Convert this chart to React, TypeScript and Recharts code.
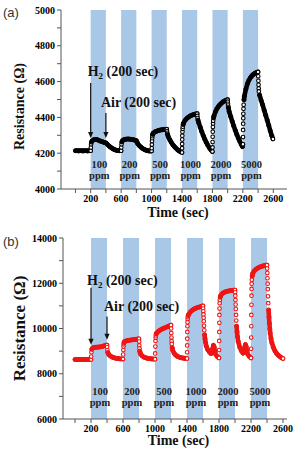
import React from "react";
import { ScatterChart, Scatter, XAxis, YAxis, ReferenceArea, ReferenceLine } from "recharts";

type Pt = [number, number];

// pulse timing and H2 concentrations
const pulseStarts = [200, 600, 1000, 1400, 1800, 2200];
const pulseLength = 200;
const pulseConc = ["100", "200", "500", "1000", "2000", "5000"];

const timeTicks = [0, 200, 400, 600, 800, 1000, 1200, 1400, 1600, 1800, 2000, 2200, 2400, 2600];
const timeLabels = [200, 600, 1000, 1400, 1800, 2200, 2600];

const resTicksA = [4000, 4100, 4200, 4300, 4400, 4500, 4600, 4700, 4800, 4900, 5000];
const resLabelsA = [4000, 4200, 4400, 4600, 4800, 5000];
const resTicksB = [6000, 7000, 8000, 9000, 10000, 11000, 12000, 13000, 14000];
const resLabelsB = [6000, 8000, 10000, 12000, 14000];

// ---- (a) resistance, ohm ----
const aBaseline: Pt[] = [[0,4214],[20,4214],[40,4213],[60,4214],[80,4214],[100,4213],[120,4214],[140,4214],[160,4213],[180,4214],[200,4214]];
const aH2_100: Pt[] = [[202,4232],[205,4250],[210,4262],[220,4269],[240,4275],[260,4277],[280,4276],[300,4273],[320,4269],[340,4266],[360,4263],[380,4260],[400,4257]];
const aAir_100: Pt[] = [[420,4249],[440,4241],[460,4234],[480,4228],[500,4223],[520,4219],[540,4216],[560,4215],[580,4214],[600,4214]];
const aH2_200: Pt[] = [[602,4232],[605,4250],[610,4263],[620,4271],[640,4276],[660,4278],[680,4279],[700,4279],[720,4278],[740,4277],[760,4275],[780,4273],[800,4270]];
const aAir_200: Pt[] = [[805,4265],[810,4260],[820,4252],[840,4242],[860,4234],[880,4227],[900,4222],[920,4218],[940,4215],[960,4213],[980,4212],[1000,4212]];
const aH2_500: Pt[] = [[1002,4228],[1004,4248],[1006,4268],[1008,4284],[1010,4295],[1015,4305],[1020,4311],[1040,4318],[1060,4322],[1080,4325],[1100,4328],[1120,4330],[1140,4331],[1160,4332],[1180,4333],[1200,4334]];
const aAir_500: Pt[] = [[1203,4324],[1206,4314],[1210,4305],[1220,4292],[1240,4275],[1260,4260],[1280,4247],[1300,4237],[1320,4228],[1340,4220],[1360,4213],[1380,4208],[1400,4204]];
const aH2_1000: Pt[] = [[1401,4228],[1402,4252],[1403,4276],[1404,4298],[1406,4320],[1408,4336],[1410,4348],[1415,4360],[1420,4368],[1440,4383],[1460,4393],[1480,4400],[1500,4406],[1520,4411],[1540,4414],[1560,4417],[1580,4419],[1600,4421]];
const aAir_1000: Pt[] = [[1602,4408],[1605,4396],[1610,4385],[1620,4370],[1640,4345],[1660,4320],[1680,4298],[1700,4278],[1720,4260],[1740,4244],[1760,4230],[1780,4218],[1800,4209]];
const aH2_2000: Pt[] = [[1801,4232],[1802,4262],[1803,4292],[1804,4320],[1806,4346],[1808,4366],[1810,4381],[1815,4397],[1820,4408],[1840,4432],[1860,4449],[1880,4462],[1900,4472],[1920,4480],[1940,4487],[1960,4492],[1980,4496],[2000,4499]];
const aAir_2000: Pt[] = [[2002,4488],[2004,4476],[2006,4466],[2010,4455],[2020,4432],[2040,4405],[2060,4378],[2080,4352],[2100,4328],[2120,4305],[2140,4285],[2160,4266],[2180,4248],[2195,4237]];
const aH2_5000: Pt[] = [[2201,4250],[2202,4290],[2203,4330],[2204,4365],[2205,4395],[2206,4420],[2208,4448],[2210,4470],[2215,4498],[2220,4518],[2240,4558],[2260,4588],[2280,4608],[2300,4622],[2320,4633],[2340,4641],[2360,4647],[2380,4651],[2400,4654]];
const aAir_5000: Pt[] = [[2402,4630],[2404,4605],[2406,4582],[2408,4562],[2410,4545],[2420,4525],[2440,4495],[2460,4470],[2480,4440],[2500,4412],[2520,4385],[2540,4355],[2560,4325],[2580,4298],[2595,4280]];

// ---- (b) resistance, ohm ----
const bBaseline: Pt[] = [[0,8630],[20,8632],[40,8628],[60,8630],[80,8631],[100,8629],[120,8630],[140,8632],[160,8628],[180,8630],[200,8630]];
const bH2_100: Pt[] = [[202,8760],[205,8950],[210,9080],[220,9140],[240,9160],[260,9170],[280,9175],[300,9180],[320,9190],[340,9205],[360,9230],[380,9255],[400,9265]];
const bAir_100: Pt[] = [[402,9180],[405,9050],[410,8940],[420,8860],[440,8790],[460,8745],[480,8715],[500,8695],[520,8680],[540,8670],[560,8660],[580,8655],[600,8650]];
const bH2_200: Pt[] = [[602,8850],[604,9050],[606,9200],[608,9300],[610,9360],[615,9400],[620,9420],[640,9450],[660,9470],[680,9482],[700,9492],[720,9500],[740,9510],[760,9520],[780,9530],[800,9545]];
const bAir_200: Pt[] = [[802,9420],[804,9250],[806,9120],[810,9000],[815,8920],[820,8870],[840,8790],[860,8740],[880,8710],[900,8690],[920,8675],[940,8665],[960,8657],[980,8650],[1000,8645]];
const bH2_500: Pt[] = [[1002,8900],[1004,9200],[1006,9450],[1008,9600],[1010,9690],[1015,9760],[1020,9800],[1040,9870],[1060,9920],[1080,9960],[1100,9995],[1120,10025],[1140,10055],[1160,10085],[1180,10115],[1200,10145]];
const bAir_500: Pt[] = [[1202,10000],[1204,9800],[1206,9600],[1208,9440],[1210,9320],[1215,9150],[1220,9050],[1240,8900],[1260,8820],[1280,8770],[1300,8740],[1320,8715],[1340,8700],[1360,8690],[1380,8680],[1400,8675]];
const bH2_1000: Pt[] = [[1401,8950],[1402,9250],[1403,9550],[1404,9850],[1405,10100],[1406,10280],[1408,10420],[1410,10500],[1415,10570],[1420,10620],[1440,10720],[1460,10790],[1480,10840],[1500,10880],[1520,10910],[1540,10935],[1560,10955],[1580,10980],[1600,11000]];
const bAir_1000: Pt[] = [[1602,10880],[1604,10760],[1606,10620],[1608,10470],[1610,10320],[1613,10120],[1616,9920],[1620,9720],[1625,9540],[1630,9400],[1640,9230],[1660,9060],[1680,8960],[1700,8890],[1710,8920],[1720,9100],[1730,9260],[1740,9180],[1750,8980],[1760,8850],[1780,8750],[1800,8700]];
const bH2_2000: Pt[] = [[1801,9050],[1802,9450],[1803,9850],[1804,10250],[1805,10600],[1806,10880],[1808,11120],[1810,11260],[1815,11380],[1820,11450],[1840,11540],[1860,11590],[1880,11620],[1900,11640],[1920,11660],[1940,11672],[1960,11682],[1980,11692],[2000,11700]];
const bAir_2000: Pt[] = [[2002,11600],[2004,11450],[2006,11260],[2008,11060],[2010,10860],[2013,10600],[2016,10350],[2020,10100],[2025,9850],[2030,9650],[2040,9420],[2060,9170],[2080,9010],[2100,8910],[2110,8950],[2120,9150],[2130,9290],[2140,9200],[2150,9000],[2160,8860],[2180,8760],[2200,8700]];
const bH2_5000: Pt[] = [[2201,9100],[2202,9600],[2203,10100],[2204,10600],[2205,11050],[2206,11450],[2207,11750],[2208,11980],[2210,12160],[2215,12320],[2220,12420],[2240,12540],[2260,12610],[2280,12660],[2300,12700],[2320,12730],[2340,12755],[2360,12775],[2380,12790],[2400,12800]];
const bAir_5000: Pt[] = [[2402,12650],[2404,12450],[2406,12220],[2408,11980],[2410,11740],[2413,11420],[2416,11120],[2420,10820],[2425,10500],[2430,10220],[2435,9980],[2440,9790],[2450,9550],[2460,9380],[2480,9160],[2500,9010],[2520,8900],[2540,8820],[2560,8760],[2580,8710],[2600,8670]];

type Row = { t: number; r: number };

const toRows = (parts: Pt[][]): Row[] => parts.flat().map(([t, r]) => ({ t, r }));

// points logged at short intervals (fast transients) and the final sample stay visible
// as open circles; slowly sampled stretches merge into a solid trace like the dense record
const isFast = (rows: Row[], i: number) => {
  if (i === rows.length - 1) return true;
  const prev = i > 0 ? rows[i].t - rows[i - 1].t : Infinity;
  const next = rows[i + 1].t - rows[i].t;
  return Math.min(prev, next) <= 3;
};

const slowRuns = (rows: Row[]) => {
  const runs: Row[][] = [];
  let cur: Row[] = [];
  rows.forEach((row, i) => {
    if (isFast(rows, i)) {
      if (cur.length) runs.push([...cur, row]);
      cur = [];
    } else cur.push(row);
  });
  if (cur.length > 1) runs.push(cur);
  return runs.filter((r) => r.length > 1);
};

const dataA = toRows([aBaseline, aH2_100, aAir_100, aH2_200, aAir_200, aH2_500, aAir_500, aH2_1000, aAir_1000, aH2_2000, aAir_2000, aH2_5000, aAir_5000]);
const dataB = toRows([bBaseline, bH2_100, bAir_100, bH2_200, bAir_200, bH2_500, bAir_500, bH2_1000, bAir_1000, bH2_2000, bAir_2000, bH2_5000, bAir_5000]);

const SERIF = "'Liberation Serif', 'Times New Roman', serif";
const AXIS = "#555";
const BAND = "#a9c7e7";

const tickStyle = { fill: "#000", fontFamily: SERIF, fontWeight: 700, fontSize: 10 };

interface ArrowNote {
  t: number;
  from: number;
  to: number;
  kind: "h2" | "air";
  dx: number;
  dy: number;
}

const arrowShape = (note: ArrowNote) => (p: any) => {
  const { x1, y1, x2, y2 } = p;
  const head = 6;
  return (
    <g>
      <line x1={x1} y1={y1} x2={x2} y2={y2 - head + 1} stroke="#111" strokeWidth={1.2} />
      <polygon points={`${x2 - 2.6},${y2 - head} ${x2 + 2.6},${y2 - head} ${x2},${y2}`} fill="#111" />
      <text x={x1 + note.dx} y={y1 + note.dy} fontFamily={SERIF} fontWeight={700} fontSize={14} fill="#111">
        {note.kind === "h2" ? (
          <>
            <tspan>H</tspan>
            <tspan fontSize={9} dy={3}>2</tspan>
            <tspan dy={-3}> (200 sec)</tspan>
          </>
        ) : (
          "Air (200 sec)"
        )}
      </text>
    </g>
  );
};

interface PanelProps {
  data: Row[];
  color: string;
  height: number;
  xDomain: [number, number];
  yDomain: [number, number];
  yTicks: number[];
  yLabels: number[];
  marginTop: number;
  xAxisHeight: number;
  yAxisWidth: number;
  notes: ArrowNote[];
  ppmLine1: number;
  ppmLine2: number;
}

function SensorPanel(p: PanelProps) {
  const fast = new Set(p.data.filter((_, i) => isFast(p.data, i)).map((d) => d.t));
  const runs = slowRuns(p.data);
  const dot = (props: any) => {
    const open = fast.has(props.payload?.t);
    return open ? (
      <circle cx={props.cx} cy={props.cy} r={1.8} fill="#fff" stroke={p.color} strokeWidth={1.1} />
    ) : (
      <circle cx={props.cx} cy={props.cy} r={2} fill={p.color} stroke={p.color} strokeWidth={1} />
    );
  };
  return (
    <ScatterChart width={295} height={p.height} margin={{ top: p.marginTop, right: 8, left: 0, bottom: 0 }}>
      {pulseStarts.map((s, i) => (
        <ReferenceArea
          key={s}
          x1={s}
          x2={s + pulseLength}
          fill={BAND}
          fillOpacity={1}
          stroke="none"
          label={(lp: any) => {
            const vb = lp.viewBox;
            const cx = vb.x + vb.width / 2 + 1;
            const bottom = vb.y + vb.height;
            return (
              <text textAnchor="middle" fontFamily={SERIF} fontWeight={700} fontSize={10.5} fill="#222">
                <tspan x={cx} y={bottom - p.ppmLine1}>{pulseConc[i]}</tspan>
                <tspan x={cx} y={bottom - p.ppmLine2}>ppm</tspan>
              </text>
            );
          }}
        />
      ))}
      <XAxis
        type="number"
        dataKey="t"
        domain={p.xDomain}
        ticks={timeTicks}
        interval={0}
        allowDataOverflow
        tickFormatter={(v: number) => (timeLabels.includes(v) ? String(v) : "")}
        height={p.xAxisHeight}
        stroke={AXIS}
        tickSize={4}
        tickMargin={2}
        tick={tickStyle}
      />
      <XAxis xAxisId="top" orientation="top" type="number" domain={p.xDomain} ticks={timeTicks} interval={0} allowDataOverflow height={0} mirror tick={false} tickSize={4} stroke={AXIS} />
      <YAxis
        type="number"
        dataKey="r"
        domain={p.yDomain}
        ticks={p.yTicks}
        interval={0}
        allowDataOverflow
        tickFormatter={(v: number) => (p.yLabels.includes(v) ? String(v) : "")}
        width={p.yAxisWidth}
        stroke={AXIS}
        tickSize={4}
        tickMargin={2}
        tick={tickStyle}
      />
      <YAxis yAxisId="right" orientation="right" type="number" domain={p.yDomain} ticks={p.yTicks} interval={0} allowDataOverflow width={0} mirror tick={false} tickSize={4} stroke={AXIS} />
      {p.notes.map((n) => (
        <ReferenceLine
          key={n.kind}
          segment={[{ x: n.t, y: n.from }, { x: n.t, y: n.to }]}
          shape={arrowShape(n)}
        />
      ))}
      {runs.map((run, k) => (
        <Scatter
          key={"run" + k}
          data={run}
          line={{ stroke: p.color, strokeWidth: 4.6, strokeLinejoin: "round", strokeLinecap: "round" }}
          lineType="joint"
          shape={() => <g />}
          isAnimationActive={false}
        />
      ))}
      <Scatter data={p.data} shape={dot} isAnimationActive={false} />
    </ScatterChart>
  );
}

const notesA: ArrowNote[] = [
  { t: 200, from: 4592, to: 4285, kind: "h2", dx: -3, dy: -7 },
  { t: 400, from: 4425, to: 4285, kind: "air", dx: -5, dy: -6 },
];
const notesB: ArrowNote[] = [
  { t: 200, from: 11800, to: 9280, kind: "h2", dx: -4, dy: -3 },
  { t: 400, from: 10530, to: 9500, kind: "air", dx: -3, dy: -6 },
];

export default function App() {
  return (
    <div style={{ position: "absolute", left: 0, top: 0, width: 295, height: 449, overflow: "hidden", background: "#fff" }}>
      <div style={{ position: "absolute", left: 0, top: 0 }}>
        <SensorPanel
          data={dataA}
          color="#000"
          height={225}
          xDomain={[-190, 2780]}
          yDomain={[4000, 5000]}
          yTicks={resTicksA}
          yLabels={resLabelsA}
          marginTop={10}
          xAxisHeight={36}
          yAxisWidth={61}
          notes={notesA}
          ppmLine1={21}
          ppmLine2={10}
        />
      </div>
      <div style={{ position: "absolute", left: 0, top: 225 }}>
        <SensorPanel
          data={dataB}
          color="#ee1515"
          height={224}
          xDomain={[-150, 2650]}
          yDomain={[6000, 14000]}
          yTicks={resTicksB}
          yLabels={resLabelsB}
          marginTop={13}
          xAxisHeight={30}
          yAxisWidth={63}
          notes={notesB}
          ppmLine1={24}
          ppmLine2={13}
        />
      </div>
      <svg width={295} height={449} style={{ position: "absolute", left: 0, top: 0, pointerEvents: "none" }}>
        <text x={3} y={17} fontFamily="'Liberation Sans', Arial, sans-serif" fontSize={13} fill="#333">(a)</text>
        <text x={3} y={246} fontFamily="'Liberation Sans', Arial, sans-serif" fontSize={13} fill="#333">(b)</text>
        <text transform="translate(23.5,106.5) rotate(-90)" textAnchor="middle" fontFamily={SERIF} fontWeight={700} fontSize={14} fill="#111">Resistance (Ω)</text>
        <text transform="translate(24.5,328.5) rotate(-90)" textAnchor="middle" fontFamily={SERIF} fontWeight={700} fontSize={17} fill="#111">Resistance (Ω)</text>
        <text x={178} y={217} textAnchor="middle" fontFamily={SERIF} fontWeight={700} fontSize={14} fill="#111">Time (sec)</text>
        <text x={178.5} y={445} textAnchor="middle" fontFamily={SERIF} fontWeight={700} fontSize={14} fill="#111">Time (sec)</text>
      </svg>
    </div>
  );
}
